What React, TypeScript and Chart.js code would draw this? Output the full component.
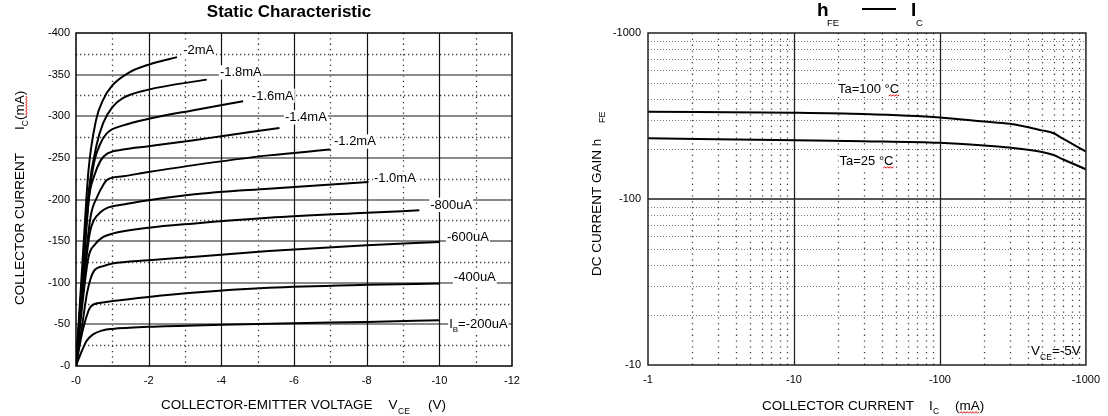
import React, { useEffect, useRef } from 'react';
import { Chart, registerables } from 'chart.js';

Chart.register(...registerables);

const FONT = '"Liberation Sans", Arial, Helvetica, sans-serif';

// ---------------- Left chart: Static Characteristic ----------------
const vceTicks = [0, 2, 4, 6, 8, 10, 12];
const icTicks = [0, 50, 100, 150, 200, 250, 300, 350, 400];

const ib200Vce = [0, 0.05, 0.16, 0.29, 0.47, 0.75, 1, 2, 4, 6, 8, 10];
const ib200Ic = [0, 6, 18, 30, 38, 43, 44.5, 47, 49.5, 51.5, 53, 55];
const ib400Vce = [0, 0.1, 0.22, 0.4, 0.68, 1, 2, 3.2, 5.3, 8, 10];
const ib400Ic = [0, 25, 49, 71, 76, 78, 83, 88, 94, 97.5, 99];
const ib600Vce = [0, 0.17, 0.31, 0.49, 0.75, 1, 2, 3.2, 5.3, 8, 10];
const ib600Ic = [0, 49, 89, 114, 120, 123, 127, 131, 138, 145, 149];
const ib800Vce = [0, 0.17, 0.34, 0.52, 0.75, 1, 2, 3.2, 5.3, 8, 9.45];
const ib800Ic = [0, 72, 130, 146, 155, 159, 166, 171, 178, 184, 187];
const ib1000Vce = [0, 0.2, 0.38, 0.49, 0.68, 0.86, 1.3, 2, 3.2, 5.3, 8.05];
const ib1000Ic = [0, 95, 160, 175, 185, 190, 194, 199, 206, 213, 221];
const ib1200Vce = [0, 0.2, 0.4, 0.58, 0.77, 0.86, 1.3, 2, 3.2, 5.3, 7.0];
const ib1200Ic = [0, 100, 179, 203, 219, 224, 228, 233, 241, 253, 260];
const ib1400Vce = [0, 0.2, 0.36, 0.49, 0.68, 0.86, 1.3, 2, 3.2, 4, 5.6];
const ib1400Ic = [0, 115, 203, 227, 247, 255, 260, 264, 271, 276, 286];
const ib1600Vce = [0, 0.2, 0.35, 0.5, 0.68, 0.86, 1.3, 2, 3.2, 4.6];
const ib1600Ic = [0, 120, 200, 245, 268, 280, 289, 297, 307, 318];
const ib1800Vce = [0, 0.2, 0.35, 0.57, 0.75, 1, 1.3, 2, 3.6];
const ib1800Ic = [0, 125, 210, 266, 292, 311, 322, 332, 344];
const ib2000Vce = [0, 0.2, 0.34, 0.55, 0.75, 1, 1.48, 2, 2.78];
const ib2000Ic = [0, 140, 233, 295, 320, 337, 353, 362, 371];

const curveNames = ['-2mA', '-1.8mA', '-1.6mA', '-1.4mA', '-1.2mA', '-1.0mA', '-800uA', '-600uA', '-400uA', '=-200uA'];
// label anchors (data units: Vce, Ic) – left edge / baseline of each label
const curveLabelVce = [2.95, 3.96, 4.84, 5.75, 7.1, 8.2, 9.75, 10.21, 10.4, 10.27];
const curveLabelIc = [375, 348, 320, 294, 265, 220.5, 189, 150.5, 102, 45.5];

// ---------------- Right chart: hFE vs Ic ----------------
const icTicksLog = [1, 10, 100, 1000];
const hfeTicksLog = [10, 100, 1000];
const icMa = [1, 10, 30, 100, 200, 300, 500, 600, 700, 1000];
const hfeTa100 = [336, 331, 325, 310, 293, 284, 259, 249, 230, 193];
const hfeTa25 = [232, 226, 223, 218, 210, 204, 192, 184, 173, 151];

const ta100Label = { x: 20, y: 435 };
const ta25Label = { x: 20.5, y: 160 };
const vceLabel = { x: 421, y: 11.5 };

// ---------------- helpers ----------------
function fnt(size: number, bold = false) {
  return `${bold ? 'bold ' : ''}${size}px ${FONT}`;
}

function txt(ctx: CanvasRenderingContext2D, s: string, x: number, y: number, size: number, o: any = {}) {
  ctx.font = fnt(size, o.bold);
  ctx.textAlign = o.align || 'left';
  ctx.textBaseline = 'alphabetic';
  const w = ctx.measureText(s).width;
  if (o.bg) {
    const x0 = o.align === 'center' ? x - w / 2 : o.align === 'right' ? x - w : x;
    ctx.fillStyle = o.bg;
    ctx.fillRect(x0 - 1, y - size * 0.85, w + 2, size * 1.1);
  }
  ctx.fillStyle = o.color || '#000';
  ctx.fillText(s, x, y);
  return w;
}

function squiggle(ctx: CanvasRenderingContext2D, x1: number, x2: number, y: number) {
  ctx.save();
  ctx.strokeStyle = '#e00000';
  ctx.lineWidth = 1;
  ctx.setLineDash([]);
  ctx.beginPath();
  let up = true;
  ctx.moveTo(x1, y);
  for (let x = x1 + 1.5; x <= x2; x += 1.5) {
    ctx.lineTo(x, up ? y - 1.2 : y);
    up = !up;
  }
  ctx.stroke();
  ctx.restore();
}

function seg(ctx: CanvasRenderingContext2D, x1: number, y1: number, x2: number, y2: number) {
  ctx.beginPath();
  ctx.moveTo(x1, y1);
  ctx.lineTo(x2, y2);
  ctx.stroke();
}

function curve(v: number[], i: number[]) {
  return {
    data: v.map((x, k) => ({ x, y: i[k] })),
    borderColor: '#000',
    borderWidth: 2,
    pointRadius: 0,
    fill: false,
    cubicInterpolationMode: 'monotone' as const,
  };
}

// ---------------- plugins ----------------
const leftDecor = {
  id: 'leftDecor',
  beforeDatasetsDraw(chart: any) {
    const { ctx, chartArea: a, scales } = chart;
    const x = scales.x, y = scales.y;
    ctx.save();
    ctx.strokeStyle = '#333';
    ctx.lineWidth = 1.3;
    ctx.setLineDash([1.3, 4]);
    for (let v = 1; v < 12; v += 2) {
      const px = Math.round(x.getPixelForValue(v)) + 0.5;
      seg(ctx, px, a.top, px, a.bottom);
    }
    ctx.strokeStyle = '#444';
    ctx.setLineDash([1.3, 2.7]);
    for (let c = 25; c < 400; c += 50) {
      const py = Math.round(y.getPixelForValue(c)) + 0.5;
      seg(ctx, a.left, py, a.right, py);
    }
    ctx.setLineDash([]);
    ctx.strokeStyle = '#8a8a8a';
    ctx.lineWidth = 2;
    icTicks.forEach((c) => {
      if (c === 0 || c === 400) return;
      const py = Math.round(y.getPixelForValue(c));
      seg(ctx, a.left, py, a.right, py);
    });
    ctx.strokeStyle = '#111';
    ctx.lineWidth = 1.2;
    vceTicks.forEach((v) => {
      if (v === 0 || v === 12) return;
      const px = Math.round(x.getPixelForValue(v)) + 0.5;
      seg(ctx, px, a.top, px, a.bottom);
    });
    ctx.restore();
  },
  afterDatasetsDraw(chart: any) {
    const { ctx, chartArea: a, scales } = chart;
    const x = scales.x, y = scales.y;
    ctx.save();
    ctx.strokeStyle = '#000';
    ctx.lineWidth = 1.5;
    ctx.strokeRect(a.left, a.top, a.right - a.left, a.bottom - a.top);
    curveNames.forEach((name, k) => {
      const px = x.getPixelForValue(curveLabelVce[k]);
      const py = y.getPixelForValue(curveLabelIc[k]);
      if (k === curveNames.length - 1) {
        ctx.font = fnt(13);
        const wI = ctx.measureText('I').width;
        ctx.font = fnt(8);
        const wB = ctx.measureText('B').width;
        ctx.font = fnt(13);
        const wR = ctx.measureText(name).width;
        ctx.fillStyle = '#fff';
        ctx.fillRect(px - 1, py - 11, wI + wB + wR + 2, 16);
        txt(ctx, 'I', px, py, 13);
        txt(ctx, 'B', px + wI, py + 4, 8);
        txt(ctx, name, px + wI + wB, py, 13);
      } else {
        txt(ctx, name, px, py, 13, { bg: '#fff' });
      }
    });
    ctx.restore();
  },
  afterDraw(chart: any) {
    const { ctx } = chart;
    ctx.save();
    txt(ctx, 'Static Characteristic', 289, 17, 17, { bold: true, align: 'center' });
    txt(ctx, 'COLLECTOR-EMITTER VOLTAGE', 161, 409, 13.5);
    txt(ctx, 'V', 388.5, 409, 13.5);
    txt(ctx, 'CE', 398, 413.5, 8.5);
    txt(ctx, '(V)', 428, 409, 13.5);
    ctx.translate(24, 305);
    ctx.rotate(-Math.PI / 2);
    txt(ctx, 'COLLECTOR CURRENT', 0, 0, 13.5);
    const wI = txt(ctx, 'I', 175, 0, 13.5);
    const wC = txt(ctx, 'C', 175 + wI, 4, 8.5);
    const wM = txt(ctx, '(mA)', 175 + wI + wC, 0, 13.5);
    ctx.font = fnt(13.5);
    const wp = ctx.measureText('(').width;
    squiggle(ctx, 175 + wI + wC + wp, 175 + wI + wC + wM - wp, 3);
    ctx.restore();
  },
};

const rightDecor = {
  id: 'rightDecor',
  beforeDatasetsDraw(chart: any) {
    const { ctx, chartArea: a, scales } = chart;
    const x = scales.x, y = scales.y;
    ctx.save();
    ctx.strokeStyle = '#777';
    ctx.lineWidth = 1;
    ctx.setLineDash([1, 2]);
    [10, 100].forEach((d) => {
      for (let k = 2; k <= 9; k++) {
        const py = Math.round(y.getPixelForValue(k * d)) + 0.5;
        seg(ctx, a.left, py, a.right, py);
      }
    });
    ctx.strokeStyle = '#444';
    ctx.lineWidth = 1.3;
    ctx.setLineDash([1.3, 4.5]);
    [1, 10, 100].forEach((d) => {
      for (let k = 2; k <= 9; k++) {
        const px = Math.round(x.getPixelForValue(k * d)) + 0.5;
        seg(ctx, px, a.top, px, a.bottom);
      }
    });
    ctx.setLineDash([]);
    ctx.strokeStyle = '#555';
    ctx.lineWidth = 2;
    const py100 = Math.round(y.getPixelForValue(100));
    seg(ctx, a.left, py100, a.right, py100);
    ctx.strokeStyle = '#222';
    ctx.lineWidth = 1.3;
    [10, 100].forEach((v) => {
      const px = Math.round(x.getPixelForValue(v)) + 0.5;
      seg(ctx, px, a.top, px, a.bottom);
    });
    ctx.restore();
  },
  afterDatasetsDraw(chart: any) {
    const { ctx, chartArea: a, scales } = chart;
    const x = scales.x, y = scales.y;
    ctx.save();
    ctx.strokeStyle = '#222';
    ctx.lineWidth = 1.5;
    ctx.strokeRect(a.left, a.top, a.right - a.left, a.bottom - a.top);
    const drawTa = (pos: { x: number; y: number }, s: string) => {
      const px = x.getPixelForValue(pos.x);
      const py = y.getPixelForValue(pos.y);
      ctx.font = fnt(13);
      const w1 = ctx.measureText(s + ' ').width;
      const w2 = ctx.measureText('°C').width;
      ctx.fillStyle = '#fff';
      ctx.fillRect(px - 1, py - 11, w1 + w2 + 2, 15);
      txt(ctx, s + ' °C', px, py, 13);
      const wdeg = ctx.measureText('°').width;
      squiggle(ctx, px + w1 + wdeg - 1, px + w1 + w2 + 1, py + 3);
    };
    drawTa(ta100Label, 'Ta=100');
    drawTa(ta25Label, 'Ta=25');
    const vx = x.getPixelForValue(vceLabel.x);
    const vy = y.getPixelForValue(vceLabel.y);
    const wV = txt(ctx, 'V', vx, vy, 13.5);
    const wCE = txt(ctx, 'CE', vx + wV, vy + 5, 8.5);
    txt(ctx, '=-5V', vx + wV + wCE, vy, 13.5);
    ctx.restore();
  },
  afterDraw(chart: any) {
    const { ctx } = chart;
    ctx.save();
    txt(ctx, 'h', 257, 15.5, 19, { bold: true });
    txt(ctx, 'FE', 267, 26, 9.5);
    ctx.fillStyle = '#000';
    ctx.fillRect(302, 8, 34, 2);
    txt(ctx, 'I', 351, 15.5, 19, { bold: true });
    txt(ctx, 'C', 356, 26, 9.5);
    txt(ctx, 'COLLECTOR CURRENT', 202, 409.5, 13.5);
    txt(ctx, 'I', 369, 409.5, 13.5);
    txt(ctx, 'C', 373, 414, 8.5);
    const wm = txt(ctx, '(mA)', 395, 409.5, 13.5);
    ctx.font = fnt(13.5);
    const wp = ctx.measureText('(').width;
    squiggle(ctx, 395 + wp, 395 + wm - wp, 413);
    ctx.translate(41, 276);
    ctx.rotate(-Math.PI / 2);
    txt(ctx, 'DC CURRENT GAIN h', 0, 0, 13.5);
    txt(ctx, 'FE', 153, 4, 9);
    ctx.restore();
  },
};

function axisTicks(values: number[], fit: (s: any) => void, padding: number): any {
  return {
    grid: { display: false, drawTicks: false },
    border: { display: false },
    afterBuildTicks: (s: any) => {
      s.ticks = values.map((v) => ({ value: v }));
    },
    afterFit: fit,
    ticks: {
      callback: (v: any) => '-' + v,
      font: { size: 11, family: FONT },
      color: '#000',
      padding,
      maxRotation: 0,
      autoSkip: false,
    },
  };
}

function leftConfig(): any {
  return {
    type: 'line',
    data: {
      datasets: [
        curve(ib2000Vce, ib2000Ic),
        curve(ib1800Vce, ib1800Ic),
        curve(ib1600Vce, ib1600Ic),
        curve(ib1400Vce, ib1400Ic),
        curve(ib1200Vce, ib1200Ic),
        curve(ib1000Vce, ib1000Ic),
        curve(ib800Vce, ib800Ic),
        curve(ib600Vce, ib600Ic),
        curve(ib400Vce, ib400Ic),
        curve(ib200Vce, ib200Ic),
      ],
    },
    options: {
      responsive: false,
      animation: false,
      events: [],
      layout: { padding: { left: 0, top: 33, right: 48, bottom: 30 } },
      plugins: { legend: { display: false }, tooltip: { enabled: false }, title: { display: false } },
      scales: {
        x: { type: 'linear', min: 0, max: 12, ...axisTicks(vceTicks, (s: any) => { s.height = 20; }, 8) },
        y: { type: 'linear', min: 0, max: 400, ...axisTicks(icTicks, (s: any) => { s.width = 76; }, 6) },
      },
    },
    plugins: [leftDecor],
  };
}

function rightConfig(): any {
  const ds = (vals: number[]) => ({
    data: icMa.map((x, k) => ({ x, y: vals[k] })),
    borderColor: '#000',
    borderWidth: 2,
    pointRadius: 0,
    fill: false,
    cubicInterpolationMode: 'monotone' as const,
  });
  return {
    type: 'line',
    data: { datasets: [ds(hfeTa100), ds(hfeTa25)] },
    options: {
      responsive: false,
      animation: false,
      events: [],
      layout: { padding: { left: 0, top: 33, right: 21, bottom: 31 } },
      plugins: { legend: { display: false }, tooltip: { enabled: false }, title: { display: false } },
      scales: {
        x: { type: 'logarithmic', min: 1, max: 1000, ...axisTicks(icTicksLog, (s: any) => { s.height = 20; }, 8) },
        y: { type: 'logarithmic', min: 10, max: 1000, ...axisTicks(hfeTicksLog, (s: any) => { s.width = 88; }, 7) },
      },
    },
    plugins: [rightDecor],
  };
}

export default function App() {
  const leftRef = useRef<HTMLCanvasElement>(null);
  const rightRef = useRef<HTMLCanvasElement>(null);
  useEffect(() => {
    const c1 = new Chart(leftRef.current as HTMLCanvasElement, leftConfig());
    const c2 = new Chart(rightRef.current as HTMLCanvasElement, rightConfig());
    return () => {
      c1.destroy();
      c2.destroy();
    };
  }, []);
  return (
    <div style={{ position: 'absolute', left: 0, top: 0, width: 1108, height: 416, background: '#fff', overflow: 'hidden' }}>
      <canvas
        ref={leftRef}
        width={560}
        height={416}
        style={{ position: 'absolute', left: 0, top: 0, width: 560, height: 416 }}
      />
      <canvas
        ref={rightRef}
        width={548}
        height={416}
        style={{ position: 'absolute', left: 560, top: 0, width: 548, height: 416 }}
      />
    </div>
  );
}
